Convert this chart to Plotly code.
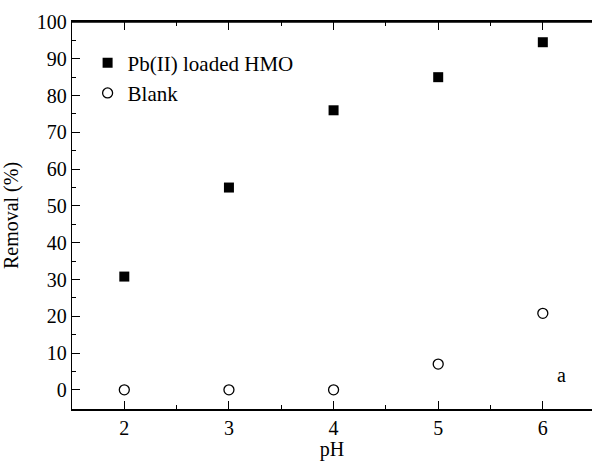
import plotly.graph_objects as go

ph = [2, 3, 4, 5, 6]
pb_loaded = [30.8, 55.0, 76.0, 85.0, 94.5]
blank = [0.0, 0.0, 0.0, 7.0, 20.8]
x_ticks = [2, 3, 4, 5, 6]
y_ticks = [0, 10, 20, 30, 40, 50, 60, 70, 80, 90, 100]

FONT = "Liberation Serif"
FS = 20

fig = go.Figure()
fig.add_trace(go.Scatter(
    x=ph, y=pb_loaded, mode="markers", name="Pb(II) loaded HMO",
    marker=dict(symbol="square", size=10, color="black"),
))
fig.add_trace(go.Scatter(
    x=ph, y=blank, mode="markers", name="Blank",
    marker=dict(symbol="circle-open", size=10, color="black", line=dict(width=1.3)),
))

fig.add_annotation(x=6.18, y=4, text="a", showarrow=False, xref="x", yref="y",
                   font=dict(family=FONT, size=FS, color="black"))

# top frame line of the plot area
fig.add_shape(type="line", xref="paper", yref="paper", x0=0, x1=1, y0=1, y1=1,
              line=dict(color="black", width=1.5))

fig.update_layout(
    width=592, height=461,
    margin=dict(l=72, r=0, t=22, b=52),
    plot_bgcolor="white", paper_bgcolor="white",
    font=dict(family=FONT, size=FS, color="black"),
    showlegend=True,
    legend=dict(x=0.03, y=0.947, xanchor="left", yanchor="top",
                bgcolor="rgba(0,0,0,0)", font=dict(family=FONT, size=21),
                itemwidth=30),
    xaxis=dict(
        range=[1.5, 6.47], tickvals=x_ticks, ticks="inside", ticklen=8,
        tickwidth=1.2, tickcolor="black", showline=True, linecolor="black",
        linewidth=1.5, mirror="allticks", showgrid=False, zeroline=False,
        minor=dict(dtick=0.5, tick0=1.5, ticks="inside", ticklen=4, tickcolor="black", tickwidth=1.2),
        title=dict(text="pH", standoff=6, font=dict(family=FONT, size=FS)),
        tickfont=dict(family=FONT, size=FS),
    ),
    yaxis=dict(
        range=[-5.2, 100], tickvals=y_ticks, ticks="inside", ticklen=8,
        tickwidth=1.2, tickcolor="black", showline=True, linecolor="black",
        linewidth=1.3, mirror=False, showgrid=False, zeroline=False,
        minor=dict(dtick=5, tick0=0, ticks="inside", ticklen=4, tickcolor="black", tickwidth=1.2),
        title=dict(text="Removal (%)", standoff=14, font=dict(family=FONT, size=FS)),
        tickfont=dict(family=FONT, size=FS),
    ),
)

fig.write_html("out.html", config={"displayModeBar": False},
               post_script="document.body.style.margin='0';document.body.style.padding='0';")
